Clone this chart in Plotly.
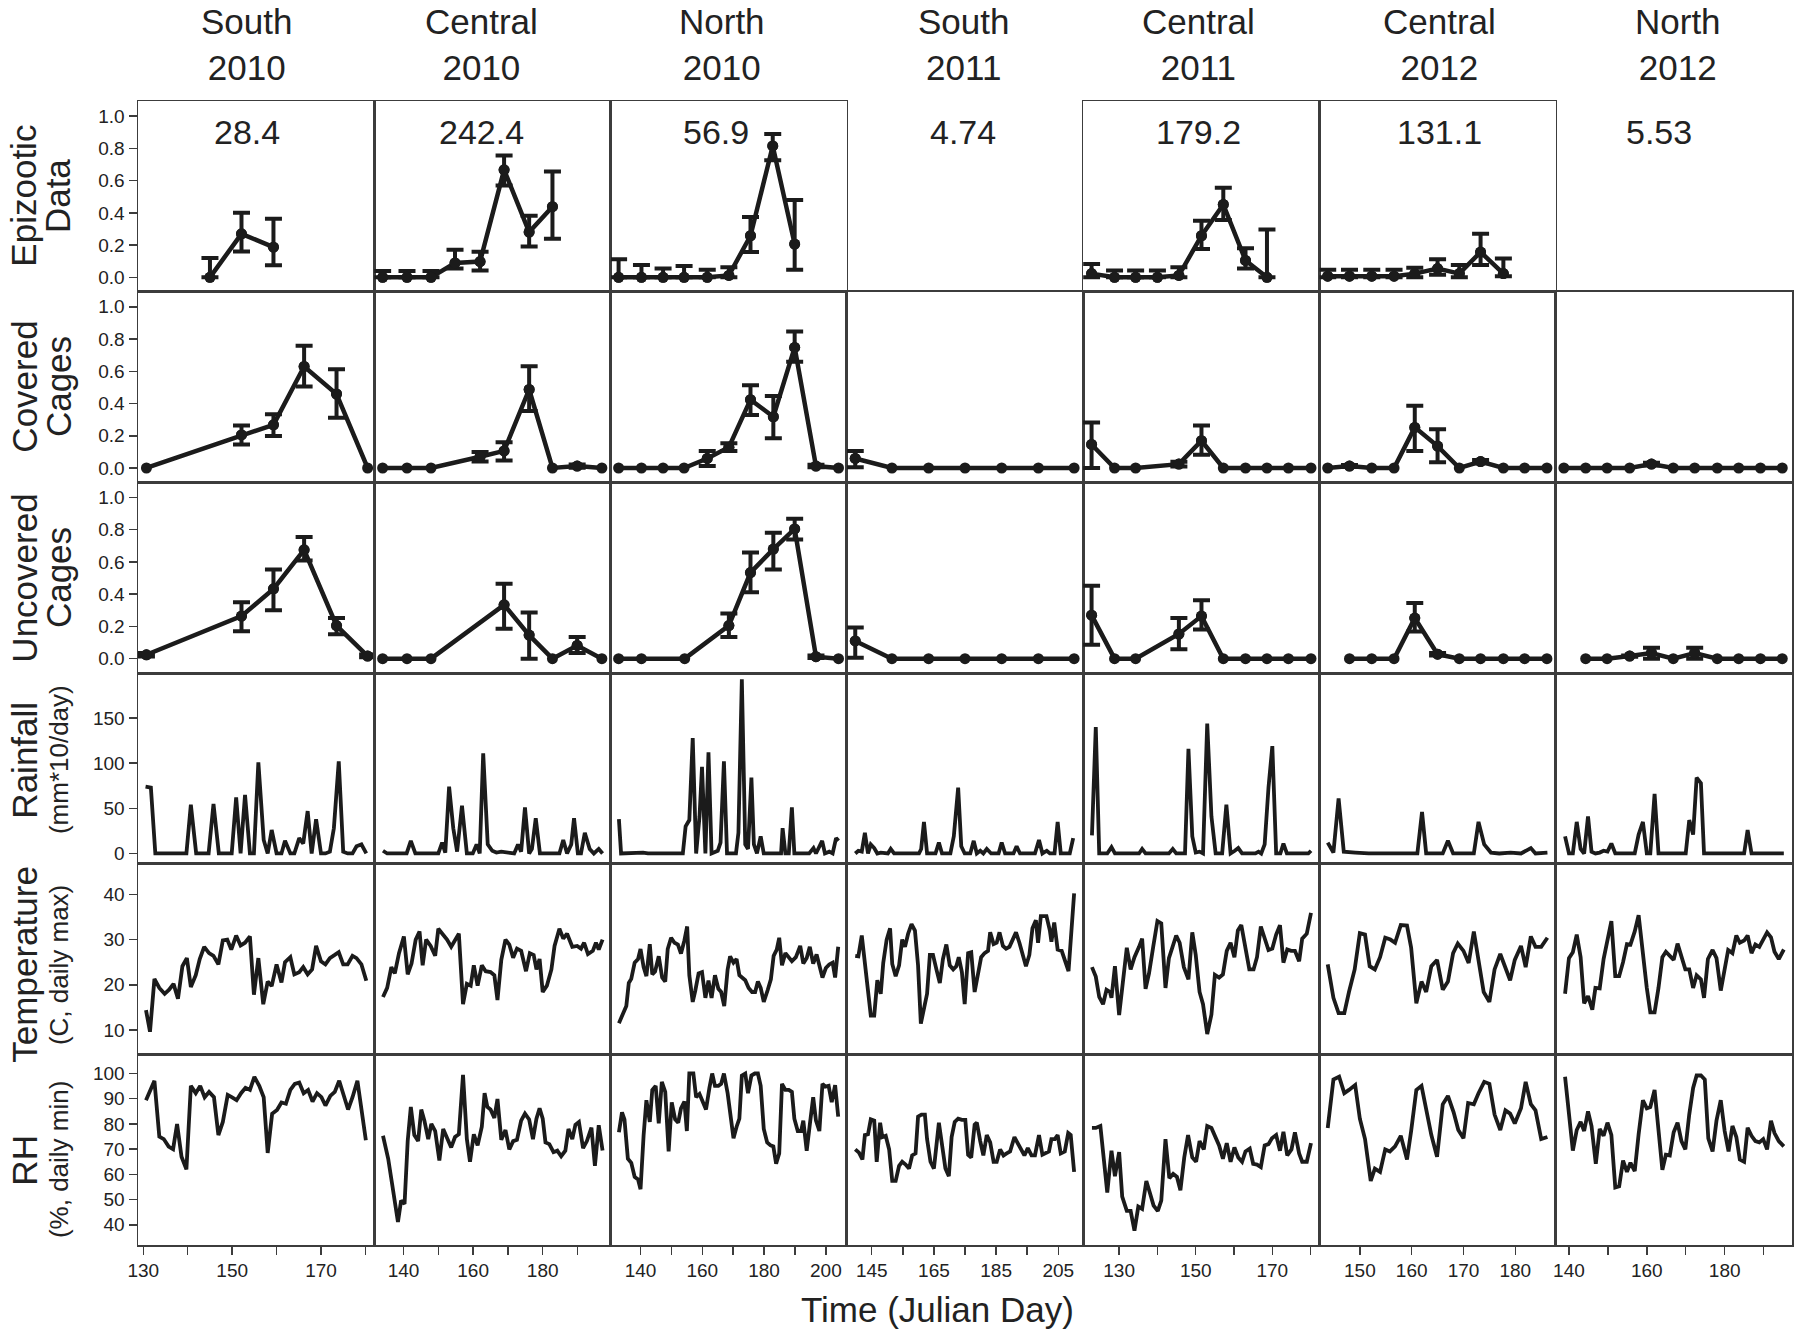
import plotly.graph_objects as go
from plotly.subplots import make_subplots

# ---------------- column headers ----------------
col_keys = ["s10", "c10", "n10", "s11", "c11", "c12", "n12"]
col_titles = ["South<br>2010", "Central<br>2010", "North<br>2010", "South<br>2011",
              "Central<br>2011", "Central<br>2012", "North<br>2012"]
col_numbers = ["28.4", "242.4", "56.9", "4.74", "179.2", "131.1", "5.53"]
row_labels = [("Epizootic", "Data"), ("Covered", "Cages"), ("Uncovered", "Cages"),
              ("Rainfall", "(mm*10/day)"), ("Temperature", "(C, daily max)"),
              ("RH", "(%, daily min)")]
x_title = "Time (Julian Day)"

# x-axis ticks per column
x_ranges = [[128.8, 182.0], [131.6, 199.5], [130.3, 206.8], [137.0, 213.0],
            [120.6, 182.3], [142.2, 187.8], [136.6, 197.3]]
x_ticks = [[130, 140, 150, 160, 170, 180], [140, 150, 160, 170, 180, 190],
           [140, 150, 160, 170, 180, 190, 200], [145, 155, 165, 175, 185, 195, 205],
           [130, 140, 150, 160, 170, 180], [150, 160, 170, 180],
           [140, 150, 160, 170, 180, 190]]
x_labels = [[130, 150, 170], [140, 160, 180], [140, 160, 180, 200], [145, 165, 185, 205],
            [130, 150, 170], [150, 160, 170, 180], [140, 160, 180]]

prop_ticks = [0.0, 0.2, 0.4, 0.6, 0.8, 1.0]
rain_ticks = [0, 50, 100, 150]
temp_ticks = [10, 20, 30, 40]
rh_ticks = [40, 50, 60, 70, 80, 90, 100]

# ---------------- South 2010 ----------------
s10_epi_day = [145.0, 152.1, 159.3]
s10_epi = [0.0, 0.27, 0.187]
s10_epi_hi = [0.12, 0.40, 0.363]
s10_epi_lo = [0.0, 0.16, 0.075]
s10_cov_day = [130.7, 152.1, 159.3, 166.2, 173.5, 180.5]
s10_cov = [0.0, 0.205, 0.268, 0.63, 0.459, 0.0]
s10_cov_hi = [0.0, 0.264, 0.334, 0.758, 0.612, 0.0]
s10_cov_lo = [0.0, 0.146, 0.198, 0.506, 0.311, 0.0]
s10_unc_day = [130.7, 152.1, 159.3, 166.2, 173.5, 180.5]
s10_unc = [0.024, 0.264, 0.433, 0.675, 0.205, 0.016]
s10_unc_hi = [0.035, 0.35, 0.553, 0.755, 0.252, 0.025]
s10_unc_lo = [0.014, 0.17, 0.30, 0.609, 0.151, 0.008]
s10_rain_day = [130.5, 131.7, 132.7, 139.7, 140.7, 141.9, 144.7, 145.8, 147.0, 149.9,
                150.9, 151.9, 152.9, 154.0, 154.9, 155.9, 157.1, 158.0, 158.9, 160.0,
                161.1, 161.9, 163.1, 164.0, 165.1, 166.0, 167.0, 167.9, 168.9, 170.0,
                171.0, 172.0, 172.9, 174.0, 175.0, 176.0, 177.1, 178.0, 179.1, 180.2]
s10_rain = [74, 73, 0, 0, 54, 0, 0, 55, 0, 0,
            62, 0, 65, 0, 0, 101, 15, 0, 26, 0,
            0, 14, 0, 0, 17, 11, 47, 0, 38, 0,
            0, 2, 28, 102, 2, 0, 0, 8, 10, 0]
s10_temp_day = [130.6, 131.5, 132.5, 133.6, 134.8, 135.8, 136.8, 137.8, 138.8, 139.8,
                140.7, 141.8, 142.7, 143.7, 144.8, 145.8, 146.9, 147.9, 148.9, 149.8,
                150.9, 151.9, 152.9, 154.0, 154.9, 155.9, 157.0, 158.0, 158.9, 160.0,
                161.1, 161.9, 163.1, 164.0, 165.1, 166.0, 167.0, 168.0, 168.9, 170.0,
                171.0, 172.0, 173.1, 174.0, 175.0, 176.0, 177.1, 178.0, 179.1, 180.2]
s10_temp = [14.4, 9.6, 21.3, 19.3, 18.0, 18.9, 20.2, 16.9, 24.1, 25.9,
            19.5, 22.1, 25.7, 28.4, 27.0, 26.4, 24.5, 29.8, 30.0, 27.8,
            30.9, 28.7, 29.3, 30.7, 17.8, 25.9, 15.7, 20.7, 19.7, 24.5,
            20.5, 25.0, 26.1, 22.3, 22.8, 23.9, 22.3, 23.4, 28.6, 25.2,
            24.5, 25.9, 26.6, 27.2, 24.5, 24.5, 26.4, 25.9, 24.5, 20.9]
s10_rh_day = [130.6, 131.5, 132.5, 133.6, 134.6, 135.7, 136.7, 137.6, 138.6, 139.7,
              140.7, 141.8, 142.8, 143.8, 144.8, 145.9, 146.9, 147.9, 149.0, 149.9,
              151.0, 152.0, 153.0, 154.0, 155.0, 156.1, 157.1, 158.0, 159.0, 160.1,
              161.1, 162.1, 163.1, 164.1, 165.1, 166.1, 167.1, 168.1, 169.1, 170.1,
              171.0, 172.1, 173.1, 174.1, 175.1, 176.1, 177.1, 178.2, 180.1]
s10_rh = [89.4, 93.5, 97.1, 75.0, 74.0, 71.0, 70.0, 80.0, 67.0, 62.0,
          95.1, 92.2, 95.1, 90.6, 92.7, 90.6, 75.6, 80.8, 91.5, 90.6,
          89.4, 92.2, 94.3, 93.5, 98.7, 95.1, 90.6, 68.5, 84.0, 85.5,
          88.5, 88.0, 93.5, 95.9, 96.4, 92.2, 93.5, 88.9, 92.2, 90.6,
          87.3, 91.1, 92.7, 97.1, 91.1, 85.7, 90.6, 97.1, 73.5]

# ---------------- Central 2010 ----------------
c10_epi_day = [134.0, 141.0, 147.9, 154.8, 162.0, 168.9, 176.1, 182.8]
c10_epi = [0, 0, 0, 0.089, 0.098, 0.667, 0.281, 0.438]
c10_epi_hi = [0.04, 0.04, 0.04, 0.171, 0.159, 0.756, 0.382, 0.656]
c10_epi_lo = [0, 0, 0, 0.054, 0.042, 0.569, 0.192, 0.239]
c10_cov_day = [134.0, 141.0, 147.9, 162.0, 168.9, 176.1, 182.8, 189.9, 197.0]
c10_cov = [0, 0, 0, 0.07, 0.106, 0.487, 0, 0.012, 0]
c10_cov_hi = [0, 0, 0, 0.099, 0.16, 0.631, 0, 0.022, 0]
c10_cov_lo = [0, 0, 0, 0.04, 0.047, 0.353, 0, 0.002, 0]
c10_unc_day = [134.0, 141.0, 147.9, 168.9, 176.1, 182.8, 189.9, 197.0]
c10_unc = [0, 0, 0, 0.334, 0.146, 0, 0.082, 0]
c10_unc_hi = [0, 0, 0, 0.464, 0.287, 0, 0.134, 0]
c10_unc_lo = [0, 0, 0, 0.186, 0, 0, 0.035, 0]
c10_rain_day = [134.1, 135.3, 140.9, 142.1, 143.4, 150.0, 151.1, 152.0, 153.1, 154.3,
                155.4, 156.8, 158.2, 159.9, 161.0, 161.9, 162.9, 164.2, 165.5, 166.7,
                168.1, 170.6, 171.8, 172.9, 173.8, 174.9, 176.1, 176.9, 178.0, 179.2,
                184.8, 185.9, 187.0, 188.2, 189.0, 190.1, 191.0, 192.1, 193.5, 194.7,
                196.1, 197.2]
c10_rain = [3, 0, 0, 14, 0, 0, 12, 1, 74, 28,
            2, 53, 0, 0, 10, 0, 111, 10, 3, 1,
            2, 0, 0, 10, 2, 51, 0, 5, 39, 0,
            0, 15, 0, 10, 39, 0, 0, 23, 5, 0,
            5, 0]
c10_temp_day = [134.1, 135.3, 136.5, 137.5, 138.7, 140.1, 141.2, 142.3, 143.5, 144.6,
                145.5, 146.5, 147.8, 149.1, 150.0, 151.4, 152.5, 153.7, 154.8, 155.9,
                157.1, 158.2, 159.3, 160.2, 161.3, 162.5, 163.6, 165.0, 166.1, 167.0,
                168.1, 169.3, 170.4, 171.5, 172.6, 173.8, 175.2, 176.3, 177.4, 178.2,
                179.1, 180.0, 181.2, 182.5, 183.4, 184.8, 185.9, 187.0, 188.5, 189.9,
                191.0, 191.9, 193.0, 194.4, 195.3, 196.1, 197.2]
c10_temp = [17.3, 19.3, 23.9, 22.5, 27.0, 30.7, 22.3, 24.7, 30.0, 31.8,
            24.3, 30.0, 28.6, 26.4, 32.4, 31.1, 30.0, 28.4, 30.0, 31.3,
            15.7, 20.2, 19.8, 24.3, 19.8, 24.3, 23.0, 22.8, 22.1, 16.6,
            25.5, 30.0, 28.9, 26.0, 28.0, 27.5, 23.0, 27.0, 26.6, 23.4,
            25.7, 18.4, 19.8, 23.4, 28.6, 32.4, 30.2, 31.3, 28.4, 28.6,
            28.0, 29.3, 26.8, 27.5, 29.3, 27.8, 30.0]
c10_rh_day = [134.1, 135.6, 136.7, 137.8, 138.4, 139.3, 140.3, 141.2, 142.1, 143.1,
              144.2, 145.1, 146.0, 147.1, 148.0, 149.1, 150.3, 151.4, 152.5, 153.7,
              154.8, 155.9, 157.1, 158.2, 159.1, 160.2, 161.3, 162.5, 163.3, 164.1,
              165.0, 166.1, 167.0, 168.1, 169.3, 170.4, 171.5, 172.6, 173.8, 174.9,
              176.1, 177.2, 178.2, 179.1, 180.0, 180.8, 181.9, 183.1, 184.2, 185.3,
              186.5, 187.4, 188.5, 189.4, 190.4, 191.6, 192.7, 194.0, 195.0, 196.1, 197.2]
c10_rh = [75.3, 66.2, 56.4, 44.7, 41.1, 49.6, 48.3, 73.2, 86.7, 75.6,
          73.2, 85.7, 81.3, 74.0, 80.0, 77.2, 65.5, 78.0, 74.3, 70.7,
          74.8, 75.9, 99.5, 74.0, 65.0, 75.9, 71.5, 78.9, 92.2, 86.7,
          85.7, 82.4, 89.9, 73.7, 77.6, 69.9, 73.2, 73.7, 81.3, 84.1,
          81.8, 74.0, 82.1, 86.2, 82.1, 72.7, 72.0, 68.8, 69.4, 67.2,
          69.4, 78.0, 74.0, 79.7, 80.8, 70.4, 73.2, 78.5, 63.4, 79.5, 69.5]

# ---------------- North 2010 ----------------
n10_epi_day = [132.9, 140.3, 147.3, 154.1, 161.6, 168.6, 175.6, 182.8, 189.9]
n10_epi = [0, 0, 0, 0, 0, 0.012, 0.258, 0.815, 0.206]
n10_epi_hi = [0.112, 0.077, 0.054, 0.07, 0.047, 0.063, 0.375, 0.89, 0.48]
n10_epi_lo = [0, 0, 0, 0, 0, 0, 0.157, 0.726, 0.047]
n10_cov_day = [132.9, 140.3, 147.3, 154.1, 161.6, 168.6, 175.6, 183.0, 189.9, 196.8, 204.1]
n10_cov = [0, 0, 0, 0, 0.059, 0.129, 0.424, 0.318, 0.748, 0.012, 0]
n10_cov_hi = [0, 0, 0, 0, 0.106, 0.153, 0.513, 0.447, 0.847, 0.02, 0]
n10_cov_lo = [0, 0, 0, 0, 0.012, 0.106, 0.329, 0.184, 0.659, 0.004, 0]
n10_unc_day = [132.9, 140.3, 154.3, 168.6, 175.6, 183.0, 189.9, 196.8, 204.1]
n10_unc = [0, 0, 0, 0.205, 0.534, 0.68, 0.805, 0.012, 0]
n10_unc_hi = [0, 0, 0, 0.28, 0.659, 0.781, 0.868, 0.02, 0]
n10_unc_lo = [0, 0, 0, 0.134, 0.412, 0.553, 0.739, 0.004, 0]
n10_rain_day = [133.0, 133.7, 140.8, 142.4, 153.7, 154.6, 155.8, 156.9, 158.0, 159.1,
                159.9, 161.0, 162.0, 163.0, 165.0, 165.9, 167.0, 168.0, 170.9, 171.7,
                172.8, 173.9, 174.8, 175.9, 176.7, 177.7, 178.9, 179.9, 185.5, 186.0,
                186.9, 188.0, 189.0, 189.8, 194.6, 196.0, 196.8, 198.8, 199.7, 201.1,
                202.2, 203.3, 204.1]
n10_rain = [38, 0, 1, 0, 0, 30, 37, 128, 0, 41,
            96, 0, 112, 0, 3, 12, 102, 0, 0, 23,
            193, 10, 5, 84, 10, 0, 19, 0, 0, 28,
            0, 0, 51, 0, 0, 6, 0, 14, 0, 2,
            0, 17, 14]
n10_temp_day = [133.0, 134.3, 135.4, 136.2, 137.0, 138.1, 139.2, 140.0, 141.0, 141.9,
                143.0, 143.8, 144.7, 145.9, 147.0, 148.0, 148.8, 149.9, 151.0, 152.1,
                153.1, 154.2, 155.1, 155.8, 156.9, 157.7, 158.8, 159.9, 161.0, 162.0,
                163.0, 164.1, 165.2, 166.1, 167.1, 168.2, 169.0, 170.1, 171.1, 172.0,
                172.8, 173.9, 175.0, 176.1, 177.1, 178.0, 178.9, 179.9, 181.2, 182.2,
                183.1, 184.1, 184.9, 185.8, 186.9, 188.0, 189.0, 190.3, 191.7, 192.7,
                193.8, 194.8, 195.9, 197.0, 197.9, 198.9, 200.0, 201.1, 202.2, 203.0, 204.0]
n10_temp = [11.5, 13.4, 15.3, 20.4, 21.3, 24.9, 25.7, 27.9, 23.9, 21.9,
            29.0, 22.3, 22.9, 26.3, 21.6, 20.7, 27.9, 30.4, 29.3, 28.9,
            26.9, 29.8, 32.9, 22.1, 16.2, 18.6, 22.5, 22.8, 17.1, 20.9,
            17.1, 22.1, 19.1, 18.4, 15.3, 23.4, 26.3, 24.9, 25.7, 22.1,
            21.6, 21.0, 19.3, 18.4, 18.4, 20.7, 19.3, 16.2, 18.9, 21.2,
            26.4, 27.8, 30.4, 24.3, 27.0, 26.1, 25.2, 26.1, 28.6, 24.7,
            25.9, 28.4, 24.7, 26.7, 23.9, 21.6, 23.7, 24.5, 24.9, 21.6, 28.4]
n10_rh_day = [133.0, 134.0, 134.8, 135.9, 137.0, 138.1, 139.2, 140.0, 141.0, 141.9,
              143.0, 143.8, 144.9, 145.9, 146.9, 148.0, 149.1, 150.1, 151.2, 152.2,
              153.1, 154.2, 155.0, 155.8, 157.1, 158.0, 159.1, 160.2, 161.2, 162.3,
              163.2, 164.1, 165.2, 166.1, 167.0, 168.2, 170.1, 171.1, 172.0, 172.8,
              173.9, 174.8, 175.9, 177.0, 178.0, 178.9, 179.9, 181.0, 182.1, 183.0,
              183.9, 184.9, 185.8, 186.9, 188.0, 189.0, 189.8, 190.9, 192.0, 192.7,
              193.8, 194.8, 195.9, 196.8, 197.9, 198.9, 199.8, 200.9, 201.9, 203.0, 204.0]
n10_rh = [76.7, 84.6, 81.8, 66.2, 64.6, 59.0, 58.0, 54.1, 75.6, 89.4,
          80.8, 93.5, 95.1, 80.2, 96.7, 92.7, 69.1, 88.6, 81.8, 80.5,
          86.2, 88.9, 77.2, 100, 100, 90.6, 91.9, 88.3, 85.7, 94.3,
          100, 95.1, 95.1, 95.9, 100, 92.2, 74.3, 78.9, 82.1, 99.2,
          100, 92.2, 99.2, 100, 100, 95.1, 78.0, 72.7, 71.5, 71.1,
          64.2, 68.3, 95.9, 93.5, 93.5, 92.7, 82.1, 77.2, 77.2, 81.3,
          69.4, 79.7, 90.6, 81.3, 77.2, 95.9, 94.8, 95.1, 88.6, 95.4, 82.9]

# ---------------- South 2011 ----------------
s11_epi_day, s11_epi, s11_epi_hi, s11_epi_lo = [], [], [], []
s11_cov_day = [139.7, 151.5, 163.3, 175.0, 186.8, 198.6, 210.1]
s11_cov = [0.059, 0, 0, 0, 0, 0, 0]
s11_cov_hi = [0.106, 0, 0, 0, 0, 0, 0]
s11_cov_lo = [0.005, 0, 0, 0, 0, 0, 0]
s11_unc_day = [139.7, 151.5, 163.3, 175.0, 186.8, 198.6, 210.1]
s11_unc = [0.11, 0, 0, 0, 0, 0, 0]
s11_unc_hi = [0.193, 0, 0, 0, 0, 0, 0]
s11_unc_lo = [0.005, 0, 0, 0, 0, 0, 0]
s11_rain_day = [139.7, 140.7, 141.8, 142.8, 143.8, 144.7, 145.8, 146.8, 147.9, 149.0,
                150.2, 151.1, 152.2, 160.2, 160.9, 161.8, 162.8, 165.5, 166.6, 167.6,
                170.3, 171.4, 172.8, 173.8, 174.9, 176.7, 177.8, 178.8, 179.9, 180.9,
                182.0, 183.4, 185.8, 186.8, 187.9, 190.6, 191.6, 192.7, 197.5, 198.8,
                199.9, 201.3, 202.3, 203.8, 204.8, 205.8, 208.7, 209.8]
s11_rain = [0, 3, 2, 23, 0, 10, 6, 0, 1, 0,
            0, 5, 0, 0, 5, 35, 0, 0, 12, 0,
            0, 19, 73, 8, 0, 0, 14, 0, 3, 0,
            5, 0, 0, 12, 0, 0, 8, 0, 0, 15,
            0, 3, 0, 0, 35, 0, 0, 17]
s11_temp_day = [139.7, 140.7, 141.8, 142.9, 143.9, 144.7, 145.8, 146.8, 147.9, 148.7,
                149.8, 150.9, 151.6, 152.7, 153.8, 154.8, 155.7, 156.7, 157.8, 158.9,
                159.9, 160.8, 162.1, 162.8, 163.7, 164.7, 165.8, 166.9, 167.9, 169.0,
                170.1, 171.2, 172.2, 173.0, 174.0, 174.9, 176.0, 177.0, 178.1, 179.1,
                180.2, 181.3, 182.4, 183.1, 184.2, 185.2, 186.1, 187.2, 188.2, 189.3,
                190.4, 191.4, 192.5, 193.6, 194.6, 195.7, 196.7, 197.8, 198.5, 199.4,
                201.2, 202.3, 202.8, 203.7, 204.8, 206.1, 207.2, 208.3, 210.1]
s11_temp = [26.4, 26.3, 30.9, 24.3, 18.4, 13.2, 13.2, 21.0, 18.0, 24.8,
            30.0, 32.5, 24.6, 21.9, 24.3, 30.0, 28.4, 31.3, 33.4, 32.0,
            24.3, 11.4, 15.7, 18.0, 26.6, 26.6, 23.4, 20.4, 25.7, 28.9,
            24.3, 23.4, 24.1, 26.1, 22.8, 15.7, 27.0, 27.2, 18.4, 22.3,
            26.1, 27.0, 27.5, 31.6, 29.0, 29.3, 31.6, 28.6, 28.0, 28.4,
            30.2, 31.6, 29.3, 26.1, 24.1, 26.6, 32.5, 34.3, 29.3, 35.2,
            35.2, 32.0, 29.5, 33.8, 27.8, 27.5, 25.2, 23.0, 40.2]
s11_rh_day = [139.7, 140.9, 142.0, 142.8, 143.8, 144.7, 145.8, 146.6, 147.7, 148.4,
              149.5, 150.6, 151.6, 152.7, 153.8, 154.8, 155.9, 157.0, 158.0, 159.1,
              159.9, 161.0, 162.1, 162.8, 163.9, 165.0, 166.6, 167.6, 168.7, 169.8,
              170.7, 171.7, 172.8, 174.0, 175.1, 176.0, 177.0, 178.1, 178.8, 179.9,
              180.9, 182.0, 183.1, 184.2, 185.2, 186.3, 187.4, 188.4, 189.5, 190.9,
              191.9, 193.0, 194.1, 195.2, 196.4, 197.5, 198.8, 199.9, 200.9, 202.0,
              202.8, 203.9, 204.8, 205.8, 207.1, 208.2, 209.0, 210.1]
s11_rh = [69.9, 68.6, 65.9, 75.6, 75.9, 81.8, 81.3, 65.0, 80.5, 74.8,
          75.3, 69.9, 57.4, 57.4, 63.4, 65.0, 63.9, 62.3, 67.5, 68.3,
          82.9, 83.7, 83.7, 74.0, 65.0, 62.3, 80.5, 71.5, 62.3, 59.3,
          74.8, 80.8, 82.1, 81.6, 81.6, 67.8, 66.7, 79.7, 80.5, 73.2,
          67.5, 75.6, 72.7, 65.0, 65.0, 69.9, 67.5, 68.3, 69.1, 74.8,
          72.4, 69.4, 67.5, 70.4, 67.5, 67.5, 75.6, 67.8, 68.3, 69.1,
          74.0, 74.0, 75.6, 68.3, 69.1, 76.4, 75.6, 61.0]

# ---------------- Central 2011 ----------------
c11_epi_day = [122.8, 128.8, 134.3, 140.0, 145.6, 151.5, 157.2, 163.0, 168.6]
c11_epi = [0.023, 0, 0, 0, 0.012, 0.258, 0.452, 0.105, 0]
c11_epi_hi = [0.082, 0.042, 0.042, 0.042, 0.063, 0.351, 0.555, 0.18, 0.297]
c11_epi_lo = [0, 0, 0, 0, 0, 0.176, 0.356, 0.054, 0]
c11_cov_day = [122.8, 128.8, 134.3, 145.6, 151.5, 157.2, 163.0, 168.6, 174.2, 180.1]
c11_cov = [0.146, 0, 0, 0.024, 0.169, 0, 0, 0, 0, 0]
c11_cov_hi = [0.282, 0, 0, 0.039, 0.264, 0, 0, 0, 0, 0]
c11_cov_lo = [0, 0, 0, 0.009, 0.082, 0, 0, 0, 0, 0]
c11_unc_day = [122.8, 128.8, 134.3, 145.6, 151.5, 157.2, 163.0, 168.6, 174.2, 180.1]
c11_unc = [0.27, 0, 0, 0.153, 0.264, 0, 0, 0, 0, 0]
c11_unc_hi = [0.452, 0, 0, 0.252, 0.362, 0, 0, 0, 0, 0]
c11_unc_lo = [0.087, 0, 0, 0.059, 0.181, 0, 0, 0, 0, 0]
c11_rain_day = [122.9, 123.9, 124.8, 126.9, 128.0, 128.9, 135.2, 136.0, 136.9, 143.0,
                144.0, 144.9, 147.2, 148.1, 149.1, 150.0, 151.0, 151.9, 153.0, 154.1,
                155.2, 156.9, 158.0, 159.1, 160.2, 161.1, 162.1, 165.6, 166.4, 167.1,
                168.0, 169.0, 170.0, 171.0, 172.1, 172.9, 173.8, 179.4, 180.1]
c11_rain = [20, 140, 0, 0, 7, 0, 0, 5, 0, 0,
            5, 0, 0, 116, 19, 1, 2, 0, 144, 41,
            0, 0, 54, 0, 3, 6, 0, 0, 2, 0,
            10, 73, 119, 0, 0, 11, 0, 0, 3]
c11_temp_day = [122.9, 123.9, 124.8, 125.8, 126.7, 127.6, 128.0, 128.9, 130.0, 130.8,
                132.0, 133.0, 134.0, 135.2, 136.0, 136.9, 137.8, 138.9, 140.0, 141.0,
                142.1, 143.0, 144.0, 144.9, 145.8, 146.9, 148.1, 149.1, 150.0, 151.0,
                151.9, 153.0, 154.1, 155.0, 156.1, 157.1, 158.1, 159.1, 160.1, 161.0,
                161.9, 163.0, 164.0, 165.1, 166.0, 167.0, 168.0, 169.0, 170.0, 171.0,
                172.0, 172.9, 173.9, 174.9, 175.9, 177.0, 177.8, 179.0, 180.1]
c11_temp = [23.9, 21.8, 17.3, 15.7, 18.9, 18.4, 17.1, 24.1, 13.3, 18.7,
            28.2, 23.4, 26.1, 28.4, 30.2, 19.1, 22.5, 28.4, 34.1, 33.6,
            19.3, 25.9, 28.4, 30.9, 29.3, 23.9, 21.2, 31.6, 26.6, 18.4,
            15.7, 9.1, 13.4, 22.2, 21.6, 22.3, 27.5, 29.3, 26.1, 32.0,
            33.2, 28.6, 23.4, 23.4, 26.1, 32.9, 30.0, 27.7, 28.0, 31.1,
            33.2, 24.9, 27.8, 27.5, 27.5, 25.2, 30.2, 31.3, 35.9]
c11_rh_day = [122.9, 123.9, 125.1, 125.9, 126.9, 128.0, 128.9, 130.0, 130.8, 132.0,
              133.0, 134.0, 135.0, 136.0, 137.1, 138.0, 139.0, 140.1, 141.0, 142.1,
              143.1, 144.1, 145.1, 146.0, 147.0, 148.0, 149.1, 150.1, 151.0, 152.1,
              153.0, 154.1, 155.2, 156.1, 157.1, 158.1, 159.1, 160.1, 161.1, 162.1,
              163.0, 164.1, 165.0, 166.0, 167.0, 168.0, 169.0, 169.9, 171.0, 172.0,
              172.9, 173.9, 175.0, 175.9, 177.0, 177.8, 179.0, 180.1]
c11_rh = [78.4, 78.4, 79.2, 68.3, 52.8, 69.4, 59.3, 68.8, 51.2, 45.5,
          45.5, 37.7, 47.2, 46.3, 57.4, 52.8, 47.6, 45.5, 49.6, 74.0,
          58.5, 60.2, 59.0, 53.7, 66.7, 75.6, 66.7, 65.0, 73.2, 69.9,
          79.2, 78.4, 74.3, 71.5, 66.2, 72.4, 65.0, 70.7, 66.7, 65.0,
          69.1, 70.2, 64.2, 63.9, 62.9, 71.5, 72.0, 74.3, 75.6, 69.4,
          76.9, 67.5, 69.9, 76.7, 68.3, 65.0, 65.0, 72.4]

# ---------------- Central 2012 ----------------
c12_epi_day = [143.8, 148.0, 152.3, 156.6, 160.6, 165.0, 169.2, 173.3, 177.7]
c12_epi = [0.007, 0.007, 0.007, 0.007, 0.023, 0.054, 0.023, 0.157, 0.023]
c12_epi_hi = [0.047, 0.047, 0.047, 0.047, 0.059, 0.112, 0.077, 0.27, 0.117]
c12_epi_lo = [0, 0, 0, 0, 0.0, 0.016, 0.0, 0.077, 0.007]
c12_cov_day = [143.8, 148.0, 152.3, 156.6, 160.6, 165.0, 169.2, 173.3, 177.7, 181.8, 186.1]
c12_cov = [0, 0.012, 0, 0, 0.252, 0.136, 0, 0.04, 0, 0, 0]
c12_cov_hi = [0, 0.018, 0, 0, 0.386, 0.24, 0, 0.05, 0, 0, 0]
c12_cov_lo = [0, 0.006, 0, 0, 0.106, 0.035, 0, 0.03, 0, 0, 0]
c12_unc_day = [148.0, 152.3, 156.6, 160.6, 165.0, 169.2, 173.3, 177.7, 181.8, 186.1]
c12_unc = [0, 0, 0, 0.252, 0.028, 0, 0, 0, 0, 0]
c12_unc_hi = [0, 0, 0, 0.346, 0.035, 0, 0, 0, 0, 0]
c12_unc_lo = [0, 0, 0, 0.169, 0.02, 0, 0, 0, 0, 0]
c12_rain_day = [143.8, 144.9, 145.9, 146.9, 149.1, 151.7, 161.1, 162.0, 162.8, 166.0,
                167.0, 168.0, 172.0, 172.9, 174.0, 175.3, 176.9, 179.1, 181.1, 183.0,
                183.9, 186.2]
c12_rain = [12, 1, 61, 2, 1, 0, 0, 46, 0, 0,
            14, 0, 0, 35, 10, 1, 0, 1, 0, 6,
            0, 1]
c12_temp_day = [143.8, 144.9, 145.9, 147.0, 147.9, 149.0, 150.0, 151.0, 151.9, 152.9,
                153.9, 154.9, 155.9, 156.8, 157.9, 159.1, 159.9, 160.9, 161.9, 162.8,
                163.8, 164.9, 166.0, 167.0, 168.0, 168.9, 170.0, 171.0, 172.0, 172.9,
                173.9, 175.0, 176.0, 177.1, 178.1, 179.0, 179.9, 181.1, 182.0, 183.0,
                183.9, 185.0, 186.2]
c12_temp = [24.5, 17.1, 13.7, 13.7, 18.4, 23.4, 31.4, 31.1, 24.1, 23.4,
            26.1, 30.4, 30.0, 29.3, 33.2, 33.1, 28.2, 15.9, 20.7, 18.4,
            24.1, 25.5, 18.9, 20.7, 27.0, 29.1, 27.5, 24.8, 31.8, 25.5,
            18.4, 16.2, 23.4, 26.8, 23.9, 21.0, 25.5, 28.6, 23.9, 30.7,
            28.4, 28.4, 30.4]
c12_rh_day = [143.8, 144.9, 146.0, 147.0, 147.9, 149.1, 150.0, 151.0, 152.1, 152.9,
              153.9, 154.9, 155.8, 156.8, 157.9, 159.1, 159.9, 160.9, 161.9, 162.8,
              163.8, 164.9, 166.0, 167.0, 168.1, 169.0, 170.0, 170.9, 172.0, 172.9,
              174.0, 175.0, 176.0, 177.1, 178.1, 179.0, 179.9, 181.1, 182.0, 183.0,
              183.9, 185.0, 186.2]
c12_rh = [78.4, 97.6, 98.7, 92.2, 93.5, 95.4, 82.1, 74.0, 57.4, 62.3,
          61.0, 69.9, 69.1, 71.1, 75.3, 65.9, 77.2, 93.5, 95.1, 86.2,
          75.6, 67.0, 87.8, 91.1, 84.6, 77.6, 74.3, 88.3, 87.8, 92.2,
          96.7, 95.9, 83.7, 77.6, 85.4, 84.1, 80.2, 86.2, 96.7, 87.8,
          85.4, 74.0, 74.8]

# ---------------- North 2012 ----------------
n12_epi_day, n12_epi, n12_epi_hi, n12_epi_lo = [], [], [], []
n12_cov_day = [138.7, 144.3, 149.8, 155.6, 161.2, 166.8, 172.3, 178.1, 183.6, 189.2, 194.8]
n12_cov = [0, 0, 0, 0, 0.024, 0, 0, 0, 0, 0, 0]
n12_cov_hi = [0, 0, 0, 0, 0.032, 0, 0, 0, 0, 0, 0]
n12_cov_lo = [0, 0, 0, 0, 0.016, 0, 0, 0, 0, 0, 0]
n12_unc_day = [144.3, 149.8, 155.6, 161.2, 166.8, 172.3, 178.1, 183.6, 189.2, 194.8]
n12_unc = [0, 0, 0.016, 0.035, 0, 0.035, 0, 0, 0, 0]
n12_unc_hi = [0, 0, 0.02, 0.068, 0, 0.068, 0, 0, 0, 0]
n12_unc_lo = [0, 0, 0.012, 0.0, 0, 0.0, 0, 0, 0, 0]
n12_rain_day = [139.0, 140.0, 141.0, 142.0, 143.0, 143.9, 144.9, 145.8, 146.8, 147.9,
                148.9, 149.9, 150.9, 151.9, 156.9, 157.9, 159.0, 160.0, 160.9, 162.0,
                163.0, 170.0, 170.9, 171.9, 172.8, 173.9, 174.7, 185.0, 185.9, 186.9, 195.2]
n12_rain = [19, 0, 0, 35, 5, 0, 41, 2, 0, 1,
            3, 2, 11, 0, 0, 21, 35, 0, 0, 66,
            0, 0, 37, 21, 84, 78, 0, 0, 26, 0, 0]
n12_temp_day = [139.0, 140.0, 141.0, 142.0, 143.0, 143.9, 144.9, 146.0, 146.8, 147.9,
                148.9, 149.9, 150.9, 151.9, 152.9, 153.9, 154.9, 155.8, 156.9, 157.9,
                159.0, 160.0, 160.9, 162.0, 163.0, 164.0, 164.9, 165.9, 166.9, 167.9,
                168.9, 169.9, 170.9, 171.9, 172.8, 173.9, 174.7, 175.7, 176.9, 177.9,
                179.0, 179.8, 180.9, 182.0, 183.0, 183.9, 185.0, 185.9, 186.9, 187.9,
                188.9, 189.9, 190.9, 191.9, 192.8, 193.9, 195.2]
n12_temp = [18.0, 25.9, 27.2, 31.1, 26.1, 15.9, 17.5, 14.5, 19.3, 19.2,
            25.7, 30.4, 34.1, 21.9, 21.9, 25.0, 29.0, 28.9, 31.8, 35.4,
            26.4, 19.3, 13.9, 13.9, 19.3, 26.1, 27.3, 26.4, 25.5, 29.1,
            26.1, 23.4, 23.4, 19.3, 22.1, 21.2, 17.1, 25.7, 27.7, 25.9,
            18.7, 22.1, 27.7, 27.0, 30.9, 29.3, 29.8, 30.9, 27.0, 28.9,
            28.4, 30.0, 31.6, 30.5, 27.3, 25.7, 27.8]
n12_rh_day = [139.0, 140.0, 141.0, 142.0, 143.0, 143.9, 144.9, 145.8, 146.9, 147.9,
              148.9, 149.9, 150.9, 151.9, 152.9, 153.9, 154.9, 155.8, 156.9, 157.9,
              159.0, 160.0, 160.9, 162.0, 163.0, 164.0, 164.9, 165.9, 166.9, 167.9,
              168.9, 169.9, 170.9, 171.9, 172.8, 173.9, 174.9, 175.8, 176.9, 177.9,
              179.0, 180.0, 181.0, 182.0, 183.0, 183.9, 185.0, 185.9, 186.9, 187.9,
              188.9, 189.9, 190.9, 191.9, 192.8, 193.9, 195.2]
n12_rh = [98.7, 82.9, 69.4, 77.6, 80.8, 77.2, 85.0, 79.2, 64.2, 78.0,
          75.3, 80.5, 75.6, 54.8, 55.3, 65.5, 61.0, 64.6, 61.3, 75.9,
          89.4, 86.2, 86.7, 93.5, 77.6, 61.8, 67.8, 67.5, 76.7, 80.5,
          73.2, 69.9, 83.7, 94.3, 99.2, 99.2, 97.6, 74.3, 69.1, 81.3,
          89.4, 77.2, 69.1, 79.2, 74.8, 65.9, 65.0, 78.5, 75.3, 73.2,
          72.7, 74.0, 69.9, 81.3, 76.4, 73.2, 71.1]

# ---------------- assemble ----------------
G = globals()
W, H = 1800, 1339
PLOT_L, PLOT_R, PLOT_T, PLOT_B = 138, 1794, 101, 1245   # page pixel coords
ML, MT = PLOT_L, PLOT_T
MR, MB = W - PLOT_R, H - PLOT_B
PW, PH = PLOT_R - PLOT_L, PLOT_B - PLOT_T
INK = "#1b1b1b"
FRAME = "#3c3c3c"
FONT = "Liberation Sans, Arial, Helvetica, sans-serif"


def px_x(p):
    return (p - PLOT_L) / PW


def px_y(p):
    return (PLOT_B - p) / PH


fig = make_subplots(rows=6, cols=7, horizontal_spacing=0, vertical_spacing=0)

prop_rows = ["epi", "cov", "unc"]
wx_rows = ["rain", "temp", "rh"]

for c, key in enumerate(col_keys, start=1):
    for r, name in enumerate(prop_rows, start=1):
        d = G[f"{key}_{name}_day"]
        y = G[f"{key}_{name}"]
        hi = G[f"{key}_{name}_hi"]
        lo = G[f"{key}_{name}_lo"]
        if not d:
            continue
        fig.add_trace(go.Scatter(x=d, y=y, mode="lines+markers",
                                 line=dict(color=INK, width=4.5),
                                 marker=dict(color=INK, size=11),
                                 showlegend=False, hoverinfo="skip"), row=r, col=c)
        ex, ey, ep, em = [], [], [], []
        for xi, yi, h, l in zip(d, y, hi, lo):
            if h - yi > 1e-9 or yi - l > 1e-9:
                ex.append(xi)
                ey.append(yi)
                ep.append(max(h - yi, 0))
                em.append(max(yi - l, 0))
        if ex:
            fig.add_trace(go.Scatter(x=ex, y=ey, mode="markers",
                                     marker=dict(color=INK, size=11),
                                     error_y=dict(type="data", symmetric=False, array=ep,
                                                  arrayminus=em, color=INK,
                                                  thickness=4, width=8.5),
                                     showlegend=False, hoverinfo="skip"), row=r, col=c)
    for r, name in enumerate(wx_rows, start=4):
        fig.add_trace(go.Scatter(x=G[f"{key}_{name}_day"], y=G[f"{key}_{name}"],
                                 mode="lines", line=dict(color=INK, width=3.8),
                                 showlegend=False, hoverinfo="skip"), row=r, col=c)

y_ranges = [[-0.089, 1.094]] * 3 + [[-11.3, 200], [4.6, 46.8], [32, 107.6]]
y_tickvals = [prop_ticks] * 3 + [rain_ticks, temp_ticks, rh_ticks]
empty_panels = {(1, 4), (1, 7)}

for r in range(1, 7):
    for c in range(1, 8):
        idx = (r - 1) * 7 + c
        sfx = "" if idx == 1 else str(idx)
        boxed = (r, c) not in empty_panels
        tv = x_ticks[c - 1]
        tt = [str(v) if v in x_labels[c - 1] else "" for v in tv]
        xa = dict(range=x_ranges[c - 1], showgrid=False, zeroline=False,
                  showline=boxed, mirror=boxed, linecolor=FRAME, linewidth=1.5,
                  tickvals=tv, ticktext=tt,
                  ticks="outside" if r == 6 else "", ticklen=8, tickwidth=1.5,
                  tickcolor=FRAME, showticklabels=(r == 6),
                  tickfont=dict(size=19, color="#222", family=FONT))
        ya = dict(range=y_ranges[r - 1], showgrid=False, zeroline=False,
                  showline=boxed, mirror=boxed, linecolor=FRAME, linewidth=1.5,
                  tickvals=y_tickvals[r - 1],
                  ticks="outside" if c == 1 else "", ticklen=8, tickwidth=1.5,
                  tickcolor=FRAME, showticklabels=(c == 1),
                  tickfont=dict(size=19, color="#222", family=FONT))
        if r <= 3:
            ya["tickformat"] = ".1f"
        fig.layout["xaxis" + sfx].update(xa)
        fig.layout["yaxis" + sfx].update(ya)

ann = []
title_x = [247, 482, 723, 964, 1200, 1441, 1680]
num_x = [247, 482, 717, 964, 1200, 1441, 1661]
for i in range(7):
    ann.append(dict(text=col_titles[i], x=px_x(title_x[i]), y=px_y(0.5), xref="paper",
                    yref="paper", xanchor="center", yanchor="top", showarrow=False,
                    font=dict(size=35, color="#222", family=FONT)))
    ann.append(dict(text=col_numbers[i], x=px_x(num_x[i]), y=px_y(132), xref="paper",
                    yref="paper", xanchor="center", yanchor="middle", showarrow=False,
                    font=dict(size=34, color="#222", family=FONT)))

row_cy = [196, 387, 578, 760, 965, 1160]
for i, (l1, l2) in enumerate(row_labels):
    small = i >= 3
    ann.append(dict(text=l1, x=px_x(23.5), y=px_y(row_cy[i]), xref="paper", yref="paper",
                    xanchor="center", yanchor="middle", showarrow=False, textangle=-90,
                    font=dict(size=35, color="#222", family=FONT)))
    ann.append(dict(text=l2, x=px_x(59 if small else 58), y=px_y(row_cy[i]), xref="paper",
                    yref="paper", xanchor="center", yanchor="middle", showarrow=False,
                    textangle=-90,
                    font=dict(size=26 if small else 35, color="#222", family=FONT)))

ann.append(dict(text=x_title, x=px_x(938), y=px_y(1309), xref="paper", yref="paper",
                xanchor="center", yanchor="middle", showarrow=False,
                font=dict(size=35, color="#222", family=FONT)))

fig.update_layout(width=W, height=H, margin=dict(l=ML, r=MR, t=MT, b=MB),
                  paper_bgcolor="white", plot_bgcolor="white", annotations=ann,
                  font=dict(family=FONT, color="#222"), showlegend=False)

# remove the default 8px page margin so the figure sits at the window origin
fig.write_html("out.html",
               config={"displayModeBar": False, "staticPlot": True},
               post_script="document.body.style.margin='0';"
                           "document.body.style.overflow='hidden';")
